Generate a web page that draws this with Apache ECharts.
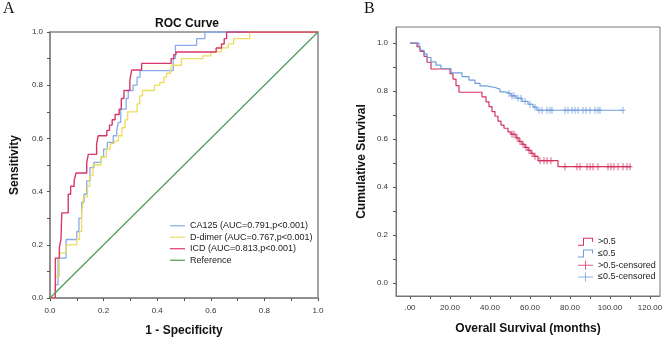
<!DOCTYPE html>
<html>
<head>
<meta charset="utf-8">
<script src="https://cdn.jsdelivr.net/npm/echarts@6/dist/echarts.min.js"></script>
<style>
  html, body { margin: 0; padding: 0; background: #fff; }
  #chart { width: 668px; height: 345px; }
</style>
</head>
<body>
<div id="chart"></div>
<script>
// ---- panel A: ROC curves (staircase corners, 1 - specificity / sensitivity) ----
const ca125Fpr = [0, 0.02, 0.03, 0.06, 0.1, 0.108, 0.118, 0.127, 0.137, 0.149, 0.164, 0.19, 0.2, 0.214, 0.236, 0.249, 0.255, 0.264, 0.284, 0.292, 0.31, 0.325, 0.336, 0.46, 0.468, 0.547, 0.578, 1.0];
const ca125Tpr = [0, 0.05, 0.15, 0.22, 0.25, 0.3, 0.36, 0.39, 0.44, 0.49, 0.51, 0.53, 0.56, 0.585, 0.61, 0.63, 0.66, 0.71, 0.75, 0.78, 0.8, 0.83, 0.855, 0.9, 0.95, 0.975, 1.0, 1.0];

const ddimerFpr = [0, 0.02, 0.035, 0.06, 0.1, 0.11, 0.118, 0.125, 0.14, 0.148, 0.16, 0.19, 0.21, 0.225, 0.24, 0.255, 0.268, 0.28, 0.29, 0.325, 0.335, 0.345, 0.39, 0.41, 0.425, 0.435, 0.45, 0.455, 0.49, 0.57, 0.6, 0.64, 0.665, 0.685, 0.745, 1.0];
const ddimerTpr = [0, 0.08, 0.17, 0.2, 0.22, 0.25, 0.32, 0.38, 0.42, 0.46, 0.5, 0.53, 0.56, 0.58, 0.59, 0.61, 0.64, 0.67, 0.7, 0.73, 0.76, 0.78, 0.8, 0.81, 0.83, 0.845, 0.86, 0.875, 0.9, 0.91, 0.925, 0.94, 0.955, 0.975, 1.0, 1.0];

const icdFpr = [0, 0.02, 0.035, 0.041, 0.044, 0.068, 0.077, 0.09, 0.097, 0.137, 0.143, 0.174, 0.18, 0.212, 0.222, 0.232, 0.243, 0.258, 0.266, 0.276, 0.298, 0.305, 0.342, 0.452, 0.462, 0.47, 0.62, 0.64, 0.65, 0.659, 1.0];
const icdTpr = [0, 0.15, 0.19, 0.22, 0.32, 0.39, 0.42, 0.44, 0.47, 0.51, 0.54, 0.58, 0.61, 0.63, 0.65, 0.67, 0.69, 0.71, 0.75, 0.78, 0.82, 0.857, 0.882, 0.9, 0.915, 0.925, 0.94, 0.955, 0.975, 1.0, 1.0];

const refLine = [0, 1];

const rocNames = ['CA125 (AUC=0.791,p<0.001)', 'D-dimer (AUC=0.767,p<0.001)', 'ICD (AUC=0.813,p<0.001)', 'Reference'];
const rocTicks = [0, 0.2, 0.4, 0.6, 0.8, 1.0];

// ---- panel B: Kaplan-Meier (event time in months / cumulative survival) ----
const highTime = [0, 3.5, 5, 7, 8.5, 10.5, 20, 21.5, 23, 24.5, 36, 38, 39.5, 41, 42.5, 44, 45.5, 47, 49, 50.5, 53, 54.5, 56, 57.5, 59, 60.5, 62, 64, 74, 110.5];
const highSurv = [1, 0.985, 0.965, 0.945, 0.92, 0.892, 0.873, 0.85, 0.823, 0.795, 0.776, 0.755, 0.735, 0.714, 0.695, 0.675, 0.658, 0.645, 0.63, 0.62, 0.605, 0.59, 0.578, 0.565, 0.553, 0.54, 0.528, 0.51, 0.485, 0.485];

const lowTime = [0, 4.5, 5.5, 7, 8.5, 10.5, 13, 15.5, 20.5, 26, 29.5, 32.5, 35, 38, 42.5, 45, 47.5, 50.5, 53, 56, 59, 61.5, 63.5, 106.5];
const lowSurv = [1, 0.985, 0.97, 0.955, 0.94, 0.922, 0.908, 0.894, 0.876, 0.86, 0.846, 0.832, 0.822, 0.815, 0.808, 0.797, 0.79, 0.78, 0.77, 0.757, 0.745, 0.733, 0.72, 0.72];

const highCensTime = [51, 52, 53.5, 55, 56.5, 58, 59.5, 61, 62.5, 65, 67, 68.5, 70.5, 77.5, 83.5, 85, 88.5, 90, 91.5, 94, 99, 100.5, 102, 104, 106.5, 108.5, 110];
const highCensSurv = [0.62, 0.62, 0.605, 0.59, 0.578, 0.565, 0.553, 0.54, 0.528, 0.51, 0.51, 0.51, 0.51, 0.485, 0.485, 0.485, 0.485, 0.485, 0.485, 0.485, 0.485, 0.485, 0.485, 0.485, 0.485, 0.485, 0.485];

const lowCensTime = [49.5, 51, 52, 54, 55.5, 57.5, 60, 62.5, 64.5, 66, 68.5, 70, 71, 77.5, 79, 81, 82.5, 84, 86.5, 88, 90, 92.5, 94, 95, 106.5];
const lowCensSurv = [0.79, 0.78, 0.78, 0.77, 0.77, 0.757, 0.745, 0.733, 0.72, 0.72, 0.72, 0.72, 0.72, 0.72, 0.72, 0.72, 0.72, 0.72, 0.72, 0.72, 0.72, 0.72, 0.72, 0.72, 0.72];

const kmNames = ['>0.5', '\u22640.5', '>0.5-censored', '\u22640.5-censored'];
const kmTimeLabels = [0, 20, 40, 60, 80, 100, 120];
const kmTimeTicks = [0, 10, 20, 30, 40, 50, 60, 70, 80, 90, 100, 110, 120];
const kmSurvLabels = [0, 0.2, 0.4, 0.6, 0.8, 1.0];
const kmSurvTicks = [0, 0.1, 0.2, 0.3, 0.4, 0.5, 0.6, 0.7, 0.8, 0.9, 1.0];

const pairs = (xs, ys) => xs.map((x, i) => [x, ys[i]]);

const FONT = 'Liberation Sans';
const RED = '#d5325f';
const BLUE = '#6e9ddb';
const stepIcon = 'path://M0,8H5V1H15V5H14V2H6V9H0Z';
const plusIcon = 'path://M0,4H7V0H8V4H15V5H8V9H7V5H0Z';
const plusMark = 'path://M2,0H3V3H5V4H3V7H2V4H0V3H2Z';

const axisName = { fontFamily: FONT, fontSize: 12, fontWeight: 'bold', color: '#111' };
const tickLabel = { fontFamily: FONT, fontSize: 8, color: '#333' };

const chart = echarts.init(document.getElementById('chart'));

const option = {
  backgroundColor: '#fff',
  animation: false,
  title: [
    { text: 'A', left: 3, top: 1, padding: 0, textStyle: { fontFamily: 'Liberation Serif', fontSize: 16, fontWeight: 'normal', color: '#111' } },
    { text: 'ROC Curve', left: 187, top: 18, padding: 0, textAlign: 'center', textStyle: { fontFamily: FONT, fontSize: 12, fontWeight: 'bold', color: '#111' } },
    { text: 'B', left: 364, top: 1, padding: 0, textStyle: { fontFamily: 'Liberation Serif', fontSize: 16, fontWeight: 'normal', color: '#111' } },
  ],
  grid: [
    { left: 50, top: 32, width: 268, height: 266, show: true, borderColor: '#888', borderWidth: 1.5 },
    { left: 396, top: 27, width: 264, height: 269, show: true, borderColor: '#777', borderWidth: 1 },
  ],
  legend: [
    {
      orient: 'vertical', left: 170, top: 220, padding: 0, itemGap: 0,
      itemWidth: 15, itemHeight: 1.2, icon: 'rect',
      itemStyle: { borderWidth: 0 },
      textStyle: { fontFamily: FONT, fontSize: 9, color: '#222', lineHeight: 11.5 },
      data: rocNames,
    },
    {
      orient: 'vertical', left: 578, top: 236, padding: 0, itemGap: 0,
      itemWidth: 15, itemHeight: 9,
      itemStyle: { borderWidth: 0 },
      textStyle: { fontFamily: FONT, fontSize: 9, color: '#222', lineHeight: 11.7 },
      data: [
        { name: kmNames[0], icon: stepIcon },
        { name: kmNames[1], icon: stepIcon },
        { name: kmNames[2], icon: plusIcon },
        { name: kmNames[3], icon: plusIcon },
      ],
    },
  ],
  xAxis: [
    {
      gridIndex: 0, type: 'value', min: 0, max: 1, interval: 0.2,
      name: '1 - Specificity', nameLocation: 'middle', nameGap: 27, nameTextStyle: axisName,
      axisLine: { onZero: false, lineStyle: { color: '#888', width: 1.5 } },
      axisTick: { length: 3, lineStyle: { color: '#555' } },
      minorTick: { show: true, splitNumber: 2, length: 3, lineStyle: { color: '#555' } },
      splitLine: { show: false },
      axisLabel: { ...tickLabel, margin: 9, formatter: (v) => v.toFixed(1) },
    },
    {
      gridIndex: 1, type: 'value', min: -7, max: 125,
      name: 'Overall Survival (months)', nameLocation: 'middle', nameGap: 27, nameTextStyle: axisName,
      axisLine: { onZero: false, lineStyle: { color: '#777', width: 1 } },
      axisTick: { length: 3, customValues: kmTimeTicks, lineStyle: { color: '#555' } },
      splitLine: { show: false },
      axisLabel: { ...tickLabel, margin: 8, customValues: kmTimeLabels, formatter: (v) => (v === 0 ? '.00' : v.toFixed(2)) },
    },
  ],
  yAxis: [
    {
      gridIndex: 0, type: 'value', min: 0, max: 1, interval: 0.2,
      name: 'Sensitivity', nameLocation: 'middle', nameGap: 29, nameTextStyle: axisName,
      axisLine: { onZero: false, lineStyle: { color: '#888', width: 1.5 } },
      axisTick: { length: 3, lineStyle: { color: '#555' } },
      minorTick: { show: true, splitNumber: 2, length: 3, lineStyle: { color: '#555' } },
      splitLine: { show: false },
      axisLabel: { ...tickLabel, margin: 7, formatter: (v) => v.toFixed(1) },
    },
    {
      gridIndex: 1, type: 'value', min: -0.054, max: 1.067,
      name: 'Cumulative Survival', nameLocation: 'middle', nameGap: 28, nameTextStyle: axisName,
      axisLine: { onZero: false, lineStyle: { color: '#777', width: 1 } },
      axisTick: { length: 3, customValues: kmSurvTicks, lineStyle: { color: '#555' } },
      splitLine: { show: false },
      axisLabel: { ...tickLabel, margin: 8, customValues: kmSurvLabels, formatter: (v) => v.toFixed(1) },
    },
  ],
  series: [
    { name: rocNames[0], type: 'line', step: 'end', symbol: 'none', color: '#86acec', lineStyle: { width: 1.3 }, data: pairs(ca125Fpr, ca125Tpr) },
    { name: rocNames[1], type: 'line', step: 'end', symbol: 'none', color: '#ecdd5e', lineStyle: { width: 1.3 }, data: pairs(ddimerFpr, ddimerTpr) },
    { name: rocNames[2], type: 'line', step: 'end', symbol: 'none', color: '#d93868', lineStyle: { width: 1.4 }, data: pairs(icdFpr, icdTpr) },
    { name: rocNames[3], type: 'line', symbol: 'none', color: '#4f9a5a', lineStyle: { width: 1.2 }, data: pairs(refLine, refLine) },

    { name: kmNames[0], type: 'line', step: 'end', symbol: 'none', xAxisIndex: 1, yAxisIndex: 1, color: RED, lineStyle: { width: 1.2 }, data: pairs(highTime, highSurv) },
    { name: kmNames[1], type: 'line', step: 'end', symbol: 'none', xAxisIndex: 1, yAxisIndex: 1, color: BLUE, lineStyle: { width: 1.2 }, data: pairs(lowTime, lowSurv) },
    { name: kmNames[2], type: 'scatter', xAxisIndex: 1, yAxisIndex: 1, color: RED, symbol: plusMark, symbolSize: [5, 7], data: pairs(highCensTime, highCensSurv) },
    { name: kmNames[3], type: 'scatter', xAxisIndex: 1, yAxisIndex: 1, color: BLUE, symbol: plusMark, symbolSize: [5, 7], data: pairs(lowCensTime, lowCensSurv) },
  ],
};

chart.setOption(option);
</script>
</body>
</html>
